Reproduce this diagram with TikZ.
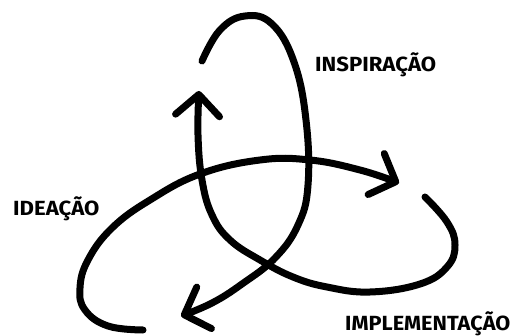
\documentclass[tikz,border=0pt]{standalone}
\usepackage{fontspec}
\setmainfont{Fira Sans}
\usetikzlibrary{arrows.meta}

\tikzset{
  cycleloop/.style={line width=7pt, line cap=round, line join=round,
    -{Straight Barb[length=21pt,width=44pt,round]}},
  phase/.style={font=\bfseries\fontsize{20.5}{24}\selectfont, inner sep=0pt, anchor=base west, xscale=1.08}
}

\begin{document}
\begin{tikzpicture}[x=1pt, y=-1pt]
        \useasboundingbox (0,0) rectangle (513,336);
        % inspiracao loop
        \draw [cycleloop] plot [smooth, tension=0.7] coordinates {(202,61) (220,30) (245,16) (272,24) (294,62) (306,120) (308,185) (298,225) (275,258) (242,284) (212,303) (181,316)};
        % ideacao loop
        \draw [cycleloop] plot [smooth, tension=0.7] coordinates {(143,330) (108,326) (85,310) (80,288) (88,260) (112,228) (150,200) (200,174) (260,160) (310,160) (360,170) (399,183)};
        % implementacao loop
        \draw [cycleloop] plot [smooth, tension=0.7] coordinates {(425,197) (447,222) (455,245) (447,267) (420,284) (370,292) (327,287) (293,277) (260,260) (230,240) (212,215) (202,180) (198,135) (199,91)};
        \node [phase] (insp) at (315,72) {INSPIRAÇÃO};
        \node [phase] (idea) at (13,216) {IDEAÇÃO};
        \node [phase, xscale=0.98] (impl) at (345,330) {IMPLEMENTAÇÃO};
      \end{tikzpicture}
\end{document}
